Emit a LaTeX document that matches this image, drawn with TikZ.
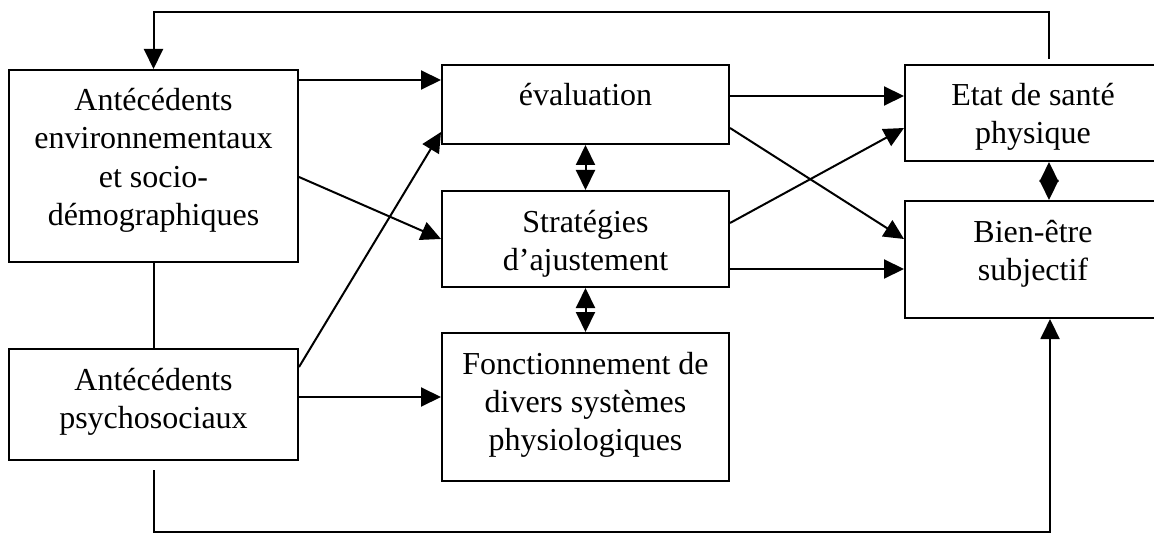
\documentclass[tikz,border=0pt]{standalone}
\usepackage{fontspec}
\setmainfont{Liberation Serif}
\usetikzlibrary{arrows.meta,calc}
\newcommand{\cadre}[3]{\parbox[c][#2][t]{#1}{\centering\vspace*{7.2pt}\strut #3}}
\begin{document}
\begin{tikzpicture}[x=0.5pt,y=-0.5pt,line width=1pt]
				\tikzstyle{every node}=[font=\fontsize{16}{19}\selectfont]
				\tikzstyle{bloc}=[draw,rectangle,inner sep=0pt]
				\tikzstyle{fleche}=[-{Triangle[length=10pt,width=9.5pt]}]
				\tikzstyle{fleche2}=[{Triangle[length=10pt,width=9.5pt]}-{Triangle[length=10pt,width=9.5pt]}]
				\useasboundingbox (0,0) rectangle (1154,534);
				\node[bloc] (antenv) at (153.5,166) 
					{\cadre{144.5pt}{96pt}{Antécédents\\environnementaux\\et socio-\\démographiques}}; 
				\node[bloc] (antpsy) at (153.5,404.5) 
					{\cadre{144.5pt}{55.5pt}{Antécédents\\psychosociaux}}; 
				\node[bloc] (eval) at (585.5,104.5) 
					{\cadre{143.5pt}{39.5pt}{évaluation}}; 
				\node[bloc] (strat) at (585.5,239) 
					{\cadre{143.5pt}{48pt}{Stratégies\\d’ajustement}}; 
				\node[bloc] (fonct) at (585.5,407) 
					{\cadre{143.5pt}{74pt}{Fonctionnement de\\divers systèmes\\physiologiques}}; 
				\node[bloc] (sante) at (1033,113) 
					{\cadre{128pt}{48pt}{Etat de santé\\physique}}; 
				\node[bloc] (bien) at (1033,259.5) 
					{\cadre{128pt}{58.5pt}{Bien-être\\subjectif}}; 
				\coordinate (haut) at (600,12); 
				\coordinate (bas) at (600,532); 
				\draw (antenv) -- (antpsy); 
				\draw[fleche] ($(antenv.east)+(0,-86)$) -- ($(eval.west)+(0,-24.5)$); 
				\draw[fleche] ($(antenv.east)+(0,11)$) -- (strat.west); 
				\draw[fleche] ($(antpsy.east)+(0,-37.5)$) -- ($(eval.west)+(0,27.5)$); 
				\draw[fleche] ($(antpsy.east)+(0,-7.5)$) -- ($(fonct.west)+(0,-10)$); 
				\draw[fleche2] (eval) -- (strat); 
				\draw[fleche2] (strat) -- (fonct); 
				\draw[fleche] ($(eval.east)+(0,-8.5)$) -- ($(sante.west)+(0,-17)$); 
				\draw[fleche] ($(eval.east)+(0,23.5)$) -- ($(bien.west)+(0,-20.5)$); 
				\draw[fleche] ($(strat.east)+(0,-16)$) -- ($(sante.west)+(0,15)$); 
				\draw[fleche] ($(strat.east)+(0,30)$) -- ($(bien.west)+(0,9.5)$); 
				\draw[fleche2] ($(sante.south)+(16,0)$) -- ($(bien.north)+(16,0)$); 
				\draw[fleche,shorten <=2.5pt] ($(sante.north)+(16,0)$) |- (haut) -| (antenv.north); 
				\draw[fleche,shorten <=4.5pt] (antpsy.south) |- (bas) -| ($(bien.south)+(17,0)$); 
\end{tikzpicture}
\end{document}
